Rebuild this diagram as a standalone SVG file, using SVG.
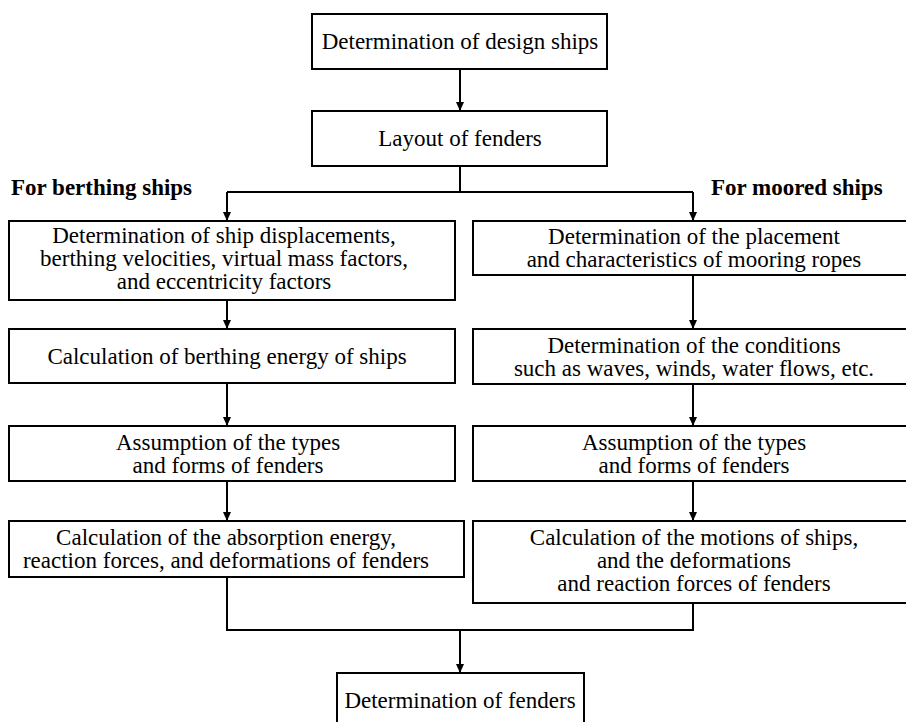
<svg xmlns="http://www.w3.org/2000/svg" width="906" height="722" viewBox="0 0 906 722" font-family="'Liberation Serif', 'Times New Roman', Times, 'DejaVu Serif', serif">
  <style>
    .box { fill: #ffffff; stroke: #000000; stroke-width: 2; }
    .t { font-size: 23px; fill: #000000; text-anchor: middle; }
    .h { font-size: 23px; font-weight: bold; fill: #000000; }
    .wire { fill: none; stroke: #000000; stroke-width: 2; }
    .arrow { fill: none; stroke: #000000; stroke-width: 2; marker-end: url(#head); }
  </style>
  <defs>
    <marker id="head" markerUnits="userSpaceOnUse" markerWidth="9" markerHeight="10" refX="9" refY="4" orient="auto">
      <path d="M0,0 L9,4 L0,8 Z" fill="#000000"/>
    </marker>
  </defs>
  <rect width="906" height="722" fill="#ffffff"/>

  <!-- connectors -->
  <g id="connectors">
    <line class="arrow" x1="460" y1="69" x2="460" y2="111"/>
    <polyline class="wire" points="460,166 460,192"/>
    <polyline class="wire" points="227,192 693,192"/>
    <line class="arrow" x1="227" y1="192" x2="227" y2="221"/>
    <line class="arrow" x1="693" y1="192" x2="693" y2="221"/>
    <line class="arrow" x1="227" y1="300" x2="227" y2="329"/>
    <line class="arrow" x1="227" y1="383" x2="227" y2="426"/>
    <line class="arrow" x1="227" y1="481" x2="227" y2="521"/>
    <line class="arrow" x1="693" y1="275" x2="693" y2="329"/>
    <line class="arrow" x1="693" y1="384" x2="693" y2="426"/>
    <line class="arrow" x1="693" y1="481" x2="693" y2="521"/>
    <polyline class="wire" points="227,577 227,630 693,630 693,603"/>
    <line class="arrow" x1="460" y1="630" x2="460" y2="673"/>
  </g>

  <!-- column headings -->
  <text class="h" x="11" y="195">For berthing ships</text>
  <text class="h" x="711" y="195">For moored ships</text>

  <!-- nodes -->
  <g id="design-ships">
    <rect class="box" x="312" y="14" width="295" height="55"/>
    <text class="t" x="460" y="49">Determination of design ships</text>
  </g>
  <g id="layout">
    <rect class="box" x="312" y="111" width="295" height="55"/>
    <text class="t" x="460" y="146">Layout of fenders</text>
  </g>

  <g id="b-displacements">
    <rect class="box" x="9" y="221" width="446" height="79"/>
    <text class="t" x="224" y="243">Determination of ship displacements,</text>
    <text class="t" x="224" y="266">berthing velocities, virtual mass factors,</text>
    <text class="t" x="224" y="289">and eccentricity factors</text>
  </g>
  <g id="b-energy">
    <rect class="box" x="9" y="329" width="446" height="54"/>
    <text class="t" x="227" y="364">Calculation of berthing energy of ships</text>
  </g>
  <g id="b-types">
    <rect class="box" x="9" y="426" width="446" height="55"/>
    <text class="t" x="228" y="450">Assumption of the types</text>
    <text class="t" x="228" y="473">and forms of fenders</text>
  </g>
  <g id="b-absorption">
    <rect class="box" x="9" y="521" width="455" height="56"/>
    <text class="t" x="226" y="545">Calculation of the absorption energy,</text>
    <text class="t" x="226" y="568">reaction forces, and deformations of fenders</text>
  </g>

  <g id="m-ropes">
    <rect class="box" x="473" y="221" width="436" height="54"/>
    <text class="t" x="694" y="244">Determination of the placement</text>
    <text class="t" x="694" y="267">and characteristics of mooring ropes</text>
  </g>
  <g id="m-conditions">
    <rect class="box" x="473" y="329" width="436" height="55"/>
    <text class="t" x="694" y="353">Determination of the conditions</text>
    <text class="t" x="694" y="376">such as waves, winds, water flows, etc.</text>
  </g>
  <g id="m-types">
    <rect class="box" x="473" y="426" width="436" height="55"/>
    <text class="t" x="694" y="450">Assumption of the types</text>
    <text class="t" x="694" y="473">and forms of fenders</text>
  </g>
  <g id="m-motions">
    <rect class="box" x="473" y="521" width="436" height="82"/>
    <text class="t" x="694" y="545">Calculation of the motions of ships,</text>
    <text class="t" x="694" y="568">and the deformations</text>
    <text class="t" x="694" y="591">and reaction forces of fenders</text>
  </g>

  <g id="fenders">
    <rect class="box" x="337" y="673" width="247" height="60"/>
    <text class="t" x="460" y="708">Determination of fenders</text>
  </g>
</svg>
